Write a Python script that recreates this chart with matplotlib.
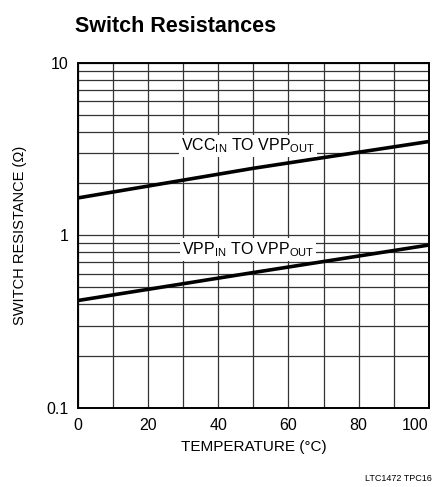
import numpy as np
import matplotlib.pyplot as plt
from matplotlib.ticker import FixedLocator, NullFormatter

plt.rcParams['font.family'] = ['Liberation Sans', 'DejaVu Sans']
plt.rcParams['mathtext.fontset'] = 'custom'
plt.rcParams['mathtext.rm'] = 'Liberation Sans'

# data
temp = [0, 50, 100]
r_vcc = [1.65, 2.45, 3.5]
r_vpp = [0.42, 0.61, 0.88]

x_ticks = [0, 20, 40, 60, 80, 100]
y_ticks = [0.1, 1, 10]
y_labels = ['0.1', '1', '10']

fig = plt.figure(figsize=(4.38, 4.87), dpi=100)
ax = fig.add_axes([0.178, 0.162, 0.801, 0.709])

ax.set_yscale('log')
ax.set_xlim(0, 100)
ax.set_ylim(0.1, 10)

# grid
ax.xaxis.set_minor_locator(FixedLocator(np.arange(0, 101, 10)))
minors = [m * d for d in (0.1, 1) for m in range(2, 10)]
ax.yaxis.set_minor_locator(FixedLocator(minors))
ax.yaxis.set_minor_formatter(NullFormatter())
ax.grid(which='both', color='#333333', lw=0.9)
ax.set_axisbelow(True)
ax.tick_params(which='both', length=0, labelsize=11.5, pad=7)

ax.set_xticks(x_ticks)
ax.set_yticks(y_ticks)
ax.set_yticklabels(y_labels)
labs = ax.get_xticklabels()
labs[-1].set_ha('right')
labs[-1].set_x(100)

for s in ax.spines.values():
    s.set_linewidth(1.4)

ax.plot(temp, r_vcc, color='black', lw=2.6, zorder=3)
ax.plot(temp, r_vpp, color='black', lw=2.6, zorder=3)

box = dict(facecolor='white', edgecolor='none', pad=1.5)
ax.text(48.5, 3.3, r'VCC$_{\mathrm{IN}}$ TO VPP$_{\mathrm{OUT}}$', ha='center', va='center',
        fontsize=11.5, bbox=box, zorder=4)
ax.text(48.5, 0.83, r'VPP$_{\mathrm{IN}}$ TO VPP$_{\mathrm{OUT}}$', ha='center', va='center',
        fontsize=11.5, bbox=box, zorder=4)

ax.set_xlabel('TEMPERATURE (°C)', fontsize=11, labelpad=5)
ax.set_ylabel('SWITCH RESISTANCE (Ω)', fontsize=10.5, labelpad=14)

fig.text(0.171, 0.935, 'Switch Resistances', fontsize=15.5, fontweight='bold')
fig.text(0.985, 0.008, 'LTC1472 TPC16', fontsize=6.5, ha='right', va='bottom')

fig.savefig('out.png', dpi=100)
